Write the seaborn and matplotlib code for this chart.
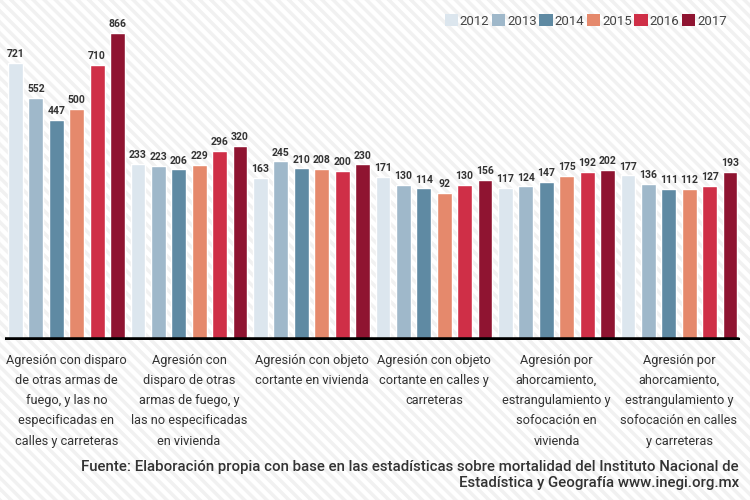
import pandas as pd
import numpy as np
import matplotlib
matplotlib.use("Agg")
import matplotlib.pyplot as plt
import seaborn as sns
from matplotlib.patches import Rectangle, Patch

# --- DATA ---
categories = [
    "Agresión con disparo\nde otras armas de\nfuego, y las no\nespecificadas en\ncalles y carreteras",
    "Agresión con\ndisparo de otras\narmas de fuego, y\nlas no especificadas\nen vivienda",
    "Agresión con objeto\ncortante en vivienda",
    "Agresión con objeto\ncortante en calles y\ncarreteras",
    "Agresión por\nahorcamiento,\nestrangulamiento y\nsofocación en\nvivienda",
    "Agresión por\nahorcamiento,\nestrangulamiento y\nsofocación en calles\ny carreteras",
]
years = ["2012", "2013", "2014", "2015", "2016", "2017"]
v2012 = [721, 233, 163, 171, 117, 177]
v2013 = [552, 223, 245, 130, 124, 136]
v2014 = [447, 206, 210, 114, 147, 111]
v2015 = [500, 229, 208, 92, 175, 112]
v2016 = [710, 296, 200, 130, 192, 127]
v2017 = [866, 320, 230, 156, 202, 193]
colors = ["#dce6ee", "#9fb8ca", "#5f8aa3", "#e5896c", "#cf2f47", "#8f1431"]

source = ("Fuente: Elaboración propia con base en las estadísticas sobre mortalidad del Instituto Nacional de\n"
          "Estadística y Geografía www.inegi.org.mx")

df = pd.DataFrame({"categoria": categories * 6,
                   "anio": np.repeat(years, len(categories)),
                   "valor": v2012 + v2013 + v2014 + v2015 + v2016 + v2017})

# --- PLOT ---
sns.set_theme(style="white")
plt.rcParams["font.family"] = ["Roboto", "DejaVu Sans"]
plt.rcParams["hatch.linewidth"] = 2.5

fig = plt.figure(figsize=(7.5, 5), dpi=100)
fig.patch.set_facecolor("white")
# faint diagonal stripes in the background
bg = Rectangle((0, 0), 1, 1, transform=fig.transFigure, facecolor="white",
               edgecolor="#f1f1f1", hatch="\\\\\\", linewidth=0.01, zorder=-10)
fig.add_artist(bg)

ax = fig.add_axes([0.007, 0.32, 0.98, 0.66])
ax.patch.set_alpha(0)

base = -620
sns.barplot(data=df, x="categoria", y="valor", hue="anio", palette=colors,
            width=1.0, gap=0.27, legend=False, ax=ax, saturation=1)

# bars start from the bottom of the (truncated) axis
for p in ax.patches:
    h = p.get_height()
    p.set_y(base)
    p.set_height(h - base)
    ax.text(p.get_x() + p.get_width() / 2, h + 18, f"{int(h)}",
            ha="center", va="bottom", fontsize=7.5, fontweight="bold", color="#333333")

ax.set_ylim(base, 977)
ax.set_xlim(-0.5, 5.5)
ax.axhline(base, color="black", linewidth=4, xmin=0, xmax=0.997, zorder=5)
for s in ax.spines.values():
    s.set_visible(False)
ax.set_yticks([])
ax.set_xlabel("")
ax.set_ylabel("")
ax.tick_params(axis="x", length=0, pad=10)
ax.set_xticks(range(len(categories)))
ax.set_xticklabels(categories, fontsize=9.2, color="#333333", va="top",
                   linespacing=1.72)

handles = [Patch(facecolor=c, edgecolor="none") for c in colors]
fig.legend(handles, years, loc="upper right", bbox_to_anchor=(0.985, 0.995), ncol=6,
           frameon=False, handlelength=1.0, handleheight=1.0, handletextpad=0.15,
           columnspacing=0.2, fontsize=9.5, labelcolor="#444444")

fig.text(0.985, 0.02, source, ha="right", va="bottom", fontsize=10.8,
         fontweight="medium", color="#333333", linespacing=1.15)

fig.savefig("out.png", dpi=100)
